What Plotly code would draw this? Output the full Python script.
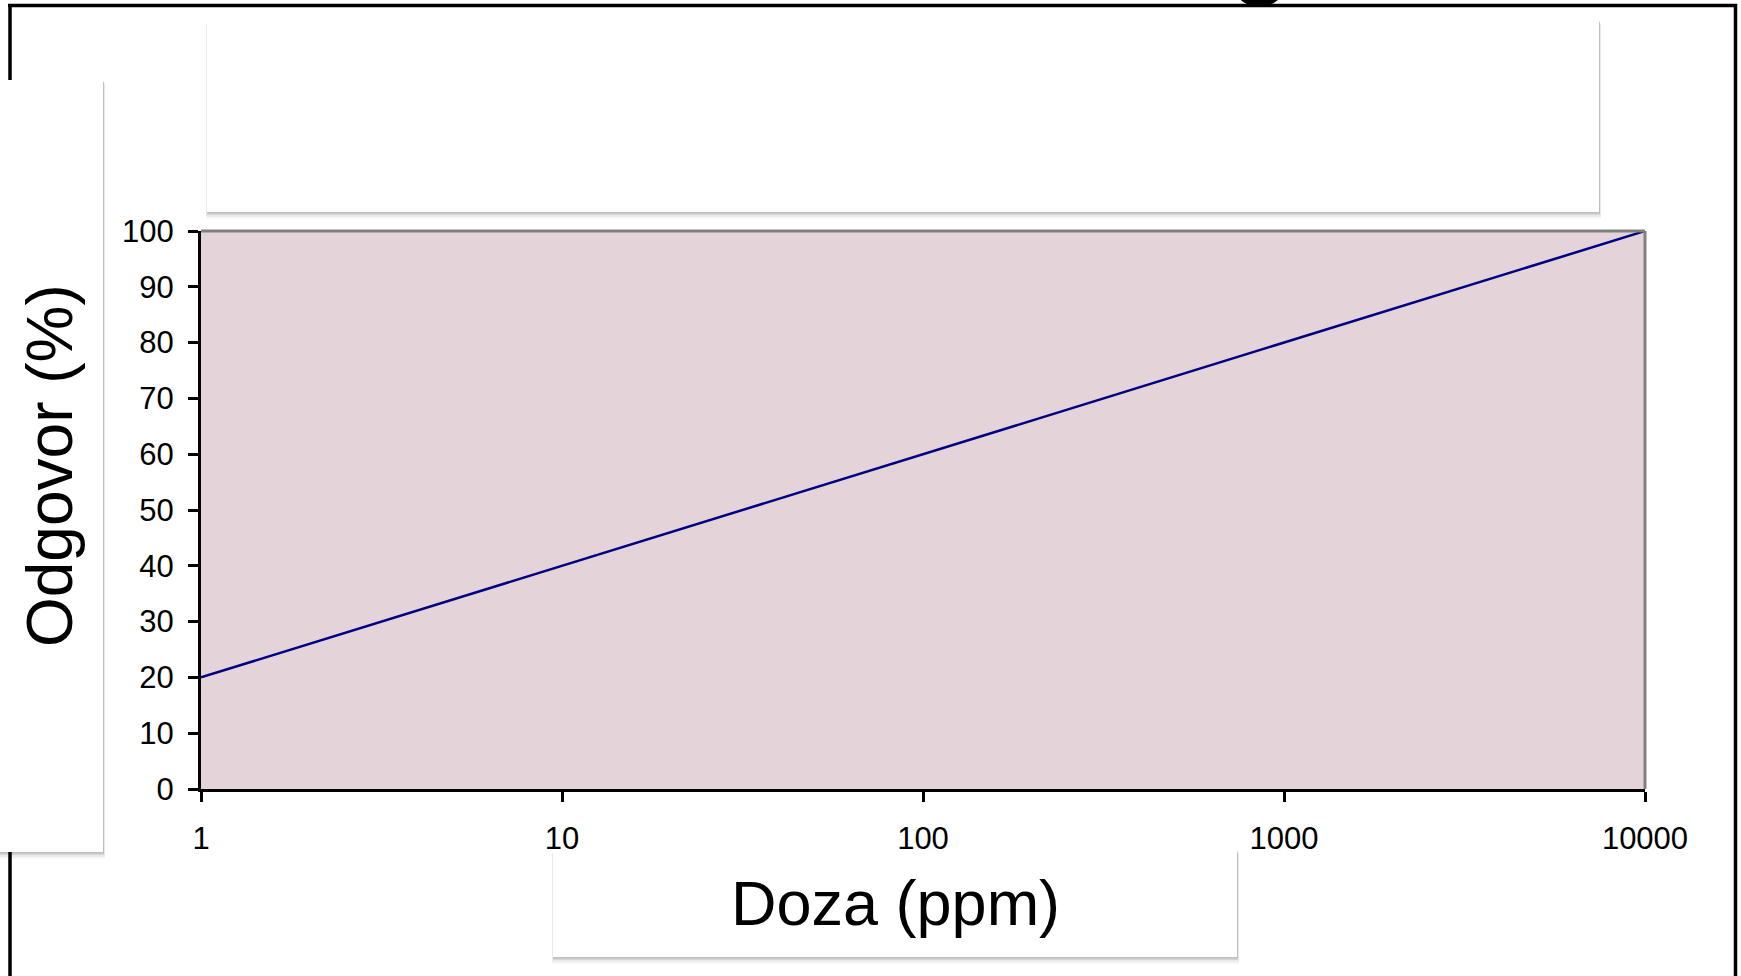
import plotly.graph_objects as go

# ---- data ----
doses = [1, 10, 100, 1000, 10000]
response = [20, 40, 60, 80, 100]
x_tickvals = [1, 10, 100, 1000, 10000]
x_ticktext = ["1", "10", "100", "1000", "10000"]
y_tickvals = [0, 10, 20, 30, 40, 50, 60, 70, 80, 90, 100]
x_title = "Doza (ppm)"
y_title = "Odgovor (%)"

# ---- layout geometry (pixels) ----
FW, FH = 1741, 976
L, R, T, B = 201, 1645, 231, 789
PW, PH = R - L, B - T


def X(px):
    return (px - L) / PW


def Y(py):
    return (B - py) / PH


fig = go.Figure()
fig.add_trace(go.Scatter(
    x=doses, y=response, mode="lines",
    line=dict(color="#000080", width=2.5),
    showlegend=False, hoverinfo="skip",
))

shapes = []
# outer black frame (top, left, right)
for (x0, y0, x1, y1) in [(8, 5.5, 1737, 5.5), (10, 4, 10, 976), (1735.5, 4, 1735.5, 976)]:
    shapes.append(dict(type="line", xref="paper", yref="paper",
                       x0=X(x0), y0=Y(y0), x1=X(x1), y1=Y(y1),
                       line=dict(color="black", width=3.5), layer="above"))

# gray top and right border of plot area
shapes.append(dict(type="line", xref="paper", yref="paper", x0=0, y0=1, x1=1, y1=1,
                   line=dict(color="#808080", width=3), layer="above"))
shapes.append(dict(type="line", xref="paper", yref="paper", x0=1, y0=0, x1=1, y1=1,
                   line=dict(color="#808080", width=3), layer="above"))


def box(x0, y0, x1, y1):
    out = []
    for dx0, dy0, dx1, dy1, a in [(-1, 4, 2, 7, 0.03), (-1, 3, 2, 5, 0.05),
                                  (0, 2, 1, 3, 0.09), (0, 1, 1, 1.5, 0.10)]:
        out.append(dict(type="rect", xref="paper", yref="paper",
                        x0=X(x0 + dx0), y0=Y(y1 + dy1), x1=X(x1 + dx1), y1=Y(y0 + dy0),
                        line=dict(width=0), fillcolor=f"rgba(0,0,0,{a})", layer="above"))
    out.append(dict(type="rect", xref="paper", yref="paper",
                    x0=X(x0), y0=Y(y1), x1=X(x1), y1=Y(y0),
                    line=dict(width=0), fillcolor="white", layer="above"))
    return out


shapes += box(207, 20, 1599, 212)
shapes += box(-5, 80, 103, 852)
shapes += box(553, 850, 1237, 957)

annotations = [
    dict(text=y_title, xref="paper", yref="paper", x=X(50), y=Y(466),
         xanchor="center", yanchor="middle", textangle=-90, showarrow=False,
         font=dict(family="Arial, Liberation Sans", size=64, color="black")),
    dict(text=x_title, xref="paper", yref="paper", x=X(895), y=Y(903),
         xanchor="center", yanchor="middle", showarrow=False,
         font=dict(family="Arial, Liberation Sans", size=63, color="black")),
    dict(text="<b>g</b>", xref="paper", yref="paper", x=X(1260), y=Y(-50),
         xanchor="center", yanchor="middle", showarrow=False,
         font=dict(family="Arial, Liberation Sans", size=100, color="black")),
]

fig.update_layout(
    width=FW, height=FH,
    margin=dict(l=L, r=FW - R, t=T, b=FH - B, pad=0),
    paper_bgcolor="white",
    plot_bgcolor="rgb(228,212,218)",
    shapes=shapes,
    annotations=annotations,
    showlegend=False,
    font=dict(family="Arial, Liberation Sans", color="black"),
)

fig.update_xaxes(
    type="log", range=[0, 4], tickvals=x_tickvals, ticktext=x_ticktext,
    showgrid=False, zeroline=False, showline=True, linecolor="black", linewidth=3,
    ticks="outside", ticklen=10, tickwidth=3, tickcolor="black",
    tickfont=dict(family="Arial, Liberation Sans", size=31, color="black"),
    ticklabelstandoff=10, automargin=False,
)
fig.update_yaxes(
    range=[0, 100], tickvals=y_tickvals,
    showgrid=False, zeroline=False, showline=True, linecolor="black", linewidth=3,
    ticks="outside", ticklen=10, tickwidth=3, tickcolor="black",
    tickfont=dict(family="Arial, Liberation Sans", size=31, color="black"),
    ticklabelstandoff=8, automargin=False,
)

fig.write_html("out.html", config={"displayModeBar": False},
               post_script="document.body.style.margin='0';")
